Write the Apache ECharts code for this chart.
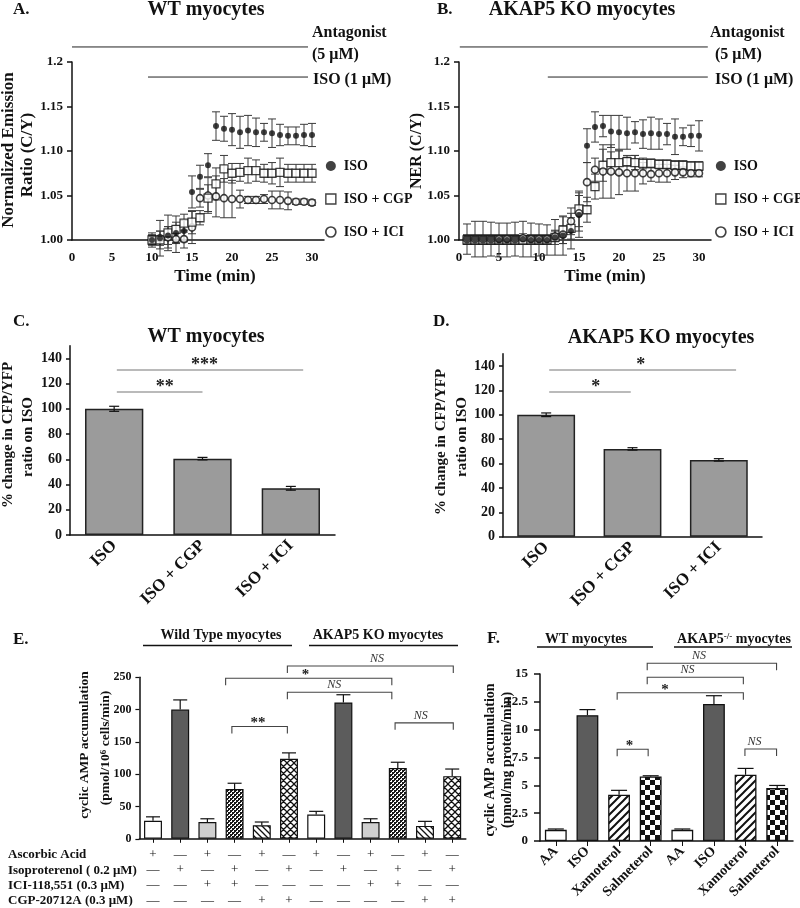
<!DOCTYPE html>
<html><head><meta charset="utf-8">
<script src="https://cdn.jsdelivr.net/npm/echarts@6/dist/echarts.min.js"></script>
<style>html,body{margin:0;padding:0;background:#fff}#c{width:800px;height:908px}</style>
</head><body><div id="c"></div>
<script>
// ---------------- DATA ----------------
const timeA = [10,11,12,13,14,15,16,17,18,19,20,21,22,23,24,25,26,27,28,29,30];
const isoA    = [1.000,1.002,1.005,1.008,1.010,1.054,1.071,1.084,1.128,1.125,1.124,1.121,1.123,1.121,1.121,1.120,1.118,1.117,1.117,1.118,1.118];
const isoAErr = [0.008,0.008,0.010,0.012,0.012,0.018,0.013,0.013,0.016,0.014,0.018,0.018,0.017,0.016,0.010,0.016,0.012,0.010,0.010,0.012,0.013];
const cgpA    = [1.000,1.000,1.008,1.012,1.019,1.020,1.025,1.047,1.063,1.080,1.075,1.076,1.078,1.078,1.075,1.075,1.076,1.075,1.075,1.075,1.075];
const cgpAErr = [0.006,0.010,0.020,0.015,0.010,0.013,0.008,0.015,0.018,0.015,0.011,0.010,0.014,0.012,0.010,0.012,0.016,0.010,0.010,0.010,0.010];
const iciA    = [1.000,1.002,1.003,1.001,1.001,1.014,1.047,1.050,1.049,1.047,1.046,1.046,1.045,1.045,1.046,1.045,1.045,1.044,1.043,1.043,1.042];
const iciAErr = [0.005,0.020,0.012,0.015,0.010,0.018,0.010,0.020,0.023,0.022,0.021,0.010,0.004,0.004,0.005,0.010,0.010,0.010,0.003,0.003,0.003];

const timeB = [1,2,3,4,5,6,7,8,9,10,11,12,13,14,15,16,17,18,19,20,21,22,23,24,25,26,27,28,29,30];
const isoB    = [1.001,1.001,1.001,1.001,1.000,1.000,1.001,1.001,1.000,1.000,1.000,1.003,1.005,1.010,1.028,1.106,1.127,1.128,1.122,1.121,1.120,1.121,1.119,1.120,1.119,1.119,1.116,1.116,1.117,1.117];
const isoBErr = [0.017,0.020,0.020,0.019,0.019,0.019,0.019,0.020,0.019,0.018,0.017,0.020,0.022,0.020,0.025,0.019,0.017,0.012,0.018,0.019,0.018,0.012,0.016,0.018,0.017,0.012,0.020,0.010,0.012,0.017];
const cgpB    = [1.000,1.000,1.000,1.000,1.000,1.000,1.000,1.000,1.000,1.000,1.000,1.003,1.011,1.013,1.035,1.034,1.060,1.084,1.087,1.087,1.088,1.087,1.086,1.086,1.085,1.085,1.084,1.084,1.083,1.083];
const cgpBErr = [0.005,0.005,0.005,0.005,0.005,0.005,0.005,0.005,0.005,0.005,0.005,0.008,0.015,0.012,0.020,0.014,0.014,0.018,0.012,0.013,0.005,0.008,0.006,0.005,0.005,0.005,0.005,0.005,0.005,0.005];
const iciB    = [1.001,1.001,1.001,1.001,1.001,1.001,1.001,1.002,1.001,1.001,1.001,1.004,1.006,1.021,1.030,1.065,1.079,1.077,1.077,1.076,1.075,1.075,1.075,1.074,1.075,1.075,1.076,1.076,1.075,1.075];
const iciBErr = [0.005,0.005,0.005,0.005,0.005,0.005,0.005,0.005,0.005,0.005,0.005,0.006,0.010,0.015,0.020,0.022,0.013,0.030,0.030,0.025,0.020,0.020,0.012,0.008,0.010,0.010,0.008,0.006,0.004,0.004];

const timeTicks = [0,5,10,15,20,25,30];

const catsCD = ['ISO','ISO + CGP','ISO + ICI'];
const valsC = [100, 60.5, 37];
const errC  = [2, 1, 1.5];
const valsD = [100, 72, 63];
const errD  = [1.5, 1, 1];
const pctTicks = [0,20,40,60,80,100,120,140];

const catsE  = ['WT AA','WT ISO','WT ICI','WT ISO+ICI','WT CGP','WT ISO+CGP','KO AA','KO ISO','KO ICI','KO ISO+ICI','KO CGP','KO ISO+CGP'];
const typesE = ['aa','iso','ici','isoici','cgp','isocgp','aa','iso','ici','isoici','cgp','isocgp'];
const valsE  = [28, 200, 26, 77, 21, 124, 37.5, 211, 26, 109.5, 20, 97];
const errE   = [6, 15, 5, 9, 5, 9, 5, 12, 5, 9, 7, 11];
const rowAA  = ['+','—','+','—','+','—','+','—','+','—','+','—'];
const rowISO = ['—','+','—','+','—','+','—','+','—','+','—','+'];
const rowICI = ['—','—','+','+','—','—','—','—','+','+','—','—'];
const rowCGP = ['—','—','—','—','+','+','—','—','—','—','+','+'];
const rowNames = ['Ascorbic Acid','Isoproterenol ( 0.2 μM)','ICI-118,551 (0.3 μM)','CGP-20712A (0.3 μM)'];

const catsF   = ['WT AA','WT ISO','WT Xamoterol','WT Salmeterol','KO AA','KO ISO','KO Xamoterol','KO Salmeterol'];
const labelsF = ['AA','ISO','Xamoterol','Salmeterol','AA','ISO','Xamoterol','Salmeterol'];
const typesF  = ['aa','iso','xam','sal','aa','iso','xam','sal'];
const valsF   = [1.0, 11.3, 4.15, 5.8, 1.0, 12.3, 5.95, 4.75];
const errF    = [0.08, 0.5, 0.4, 0.06, 0.08, 0.75, 0.57, 0.24];

// significance annotations (category units)
const sigC = [{from:0.03,to:2.14,y:130.7,label:'***',lp:0.47},{from:0.03,to:1.0,y:113.3,label:'**',lp:0.56}];
const sigD = [{from:0.035,to:2.2,y:136.7,label:'*',lp:0.49},{from:0.035,to:0.98,y:118.7,label:'*',lp:0.57}];
const sigE = [
  {from:2.9,to:4.94,y:173.8,label:'**',lp:0.47},
  {from:4.94,to:8.78,y:226.9,label:'NS',lp:0.45},
  {from:2.67,to:8.78,y:248.5,label:'*',lp:0.48},
  {from:4.94,to:11.04,y:267.4,label:'NS',lp:0.54},
  {from:8.9,to:11.04,y:179.5,label:'NS',lp:0.44}
];
const sigF = [
  {from:1.94,to:2.92,y:8.24,label:'*',lp:0.4},
  {from:5.98,to:6.98,y:8.27,label:'NS',lp:0.3},
  {from:1.94,to:5.93,y:13.32,label:'*',lp:0.38},
  {from:2.89,to:5.93,y:14.71,label:'NS',lp:0.42},
  {from:2.89,to:6.98,y:15.97,label:'NS',lp:0.4}
];
// treatment bars in A/B (x from, x to, y)
const treatA = [[0,29.5,1.2169],[9.5,29.5,1.1831]];
const treatB = [[0.1,31.1,1.2169],[11.1,31.1,1.1831]];

// ---------------- STYLE ----------------
const FF = '"Liberation Serif","Times New Roman",serif';
const INK = '#111';
function fnt(sz, w, st){ return (st||'normal')+' '+(w||'bold')+' '+sz+'px '+FF; }

function pat(w,h,draw){const c=document.createElement('canvas');c.width=w;c.height=h;const g=c.getContext('2d');draw(g,w,h);return {image:c,repeat:'repeat'};}
const fills = {
  aa:'#ffffff', iso:'#5c5c5c', ici:'#cfcfcf',
  cgp: pat(6,6,(g)=>{g.fillStyle='#fff';g.fillRect(0,0,6,6);g.strokeStyle='#111';g.lineWidth=1.3;g.beginPath();g.moveTo(-1,-1);g.lineTo(7,7);g.moveTo(-1,5);g.lineTo(1,7);g.moveTo(5,-1);g.lineTo(7,1);g.stroke();}),
  isocgp: pat(7,7,(g)=>{g.fillStyle='#fff';g.fillRect(0,0,7,7);g.strokeStyle='#111';g.lineWidth=1.3;g.beginPath();
     g.moveTo(-1,-1);g.lineTo(8,8);g.moveTo(-1,6);g.lineTo(1,8);g.moveTo(6,-1);g.lineTo(8,1);
     g.moveTo(-1,8);g.lineTo(8,-1);g.moveTo(-1,1);g.lineTo(1,-1);g.moveTo(6,8);g.lineTo(8,6);g.stroke();}),
  isoici: pat(4,4,(g)=>{g.fillStyle='#fff';g.fillRect(0,0,4,4);g.fillStyle='#1a1a1a';g.fillRect(0,0,2,2);g.fillRect(2,2,2,2);g.fillRect(2,0,1,1);g.fillRect(0,2,1,1);}),
  xam: pat(8,8,(g)=>{g.fillStyle='#fff';g.fillRect(0,0,8,8);g.strokeStyle='#111';g.lineWidth=2;g.beginPath();g.moveTo(-1,9);g.lineTo(9,-1);g.moveTo(-1,1);g.lineTo(1,-1);g.moveTo(7,9);g.lineTo(9,7);g.stroke();}),
  sal: pat(10,10,(g)=>{g.fillStyle='#fff';g.fillRect(0,0,10,10);g.fillStyle='#111';g.fillRect(0,0,5,5);g.fillRect(5,5,5,5);})
};

function errBars(xi, times, vals, errs, cap, name){
  return {type:'custom', name, xAxisIndex:xi, yAxisIndex:xi, z:2, silent:true, clip:false,
    data: times.map((t,i)=>[t, vals[i], errs[i]]),
    renderItem:(p,api)=>{const x=api.value(0),y=api.value(1),e=api.value(2);
      const t=api.coord([x,y+e]), b=api.coord([x,y-e]); const st={stroke:'#3a3a3a',lineWidth:1};
      return {type:'group',children:[
        {type:'line',shape:{x1:t[0],y1:t[1],x2:b[0],y2:b[1]},style:st},
        {type:'line',shape:{x1:t[0]-cap,y1:t[1],x2:t[0]+cap,y2:t[1]},style:st},
        {type:'line',shape:{x1:b[0]-cap,y1:b[1],x2:b[0]+cap,y2:b[1]},style:st}]};}};
}
function barErr(xi, vals, errs, cap, both, name){
  return {type:'custom', name, xAxisIndex:xi, yAxisIndex:xi, z:4, silent:true, clip:false,
    data: vals.map((v,i)=>[i, v, errs[i]]),
    renderItem:(p,api)=>{const x=api.value(0),y=api.value(1),e=api.value(2);
      const t=api.coord([x,y+e]), b=api.coord([x,both?y-e:y]); const st={stroke:'#111',lineWidth:1.2};
      const ch=[{type:'line',shape:{x1:t[0],y1:t[1],x2:b[0],y2:b[1]},style:st},
        {type:'line',shape:{x1:t[0]-cap,y1:t[1],x2:t[0]+cap,y2:t[1]},style:st}];
      if(both) ch.push({type:'line',shape:{x1:b[0]-cap,y1:b[1],x2:b[0]+cap,y2:b[1]},style:st});
      return {type:'group',children:ch};}};
}
function sig(xi, list, drop, color, fonts, dys, name){
  return {type:'custom', name, xAxisIndex:xi, yAxisIndex:xi, z:6, silent:true, clip:false,
    data: list.map(b=>[0, b.y]),
    renderItem:(p,api)=>{const b=list[p.dataIndex]; const x0=api.coord([0,0])[0]; const bw=api.size([1,0])[0];
      const xa=x0+b.from*bw, xb=x0+b.to*bw, y=api.coord([0,b.y])[1];
      const pts = drop ? [[xa,y+drop],[xa,y],[xb,y],[xb,y+drop]] : [[xa,y],[xb,y]];
      const isNS = b.label==='NS';
      return {type:'group',children:[
        {type:'polyline',shape:{points:pts},style:{stroke:color,lineWidth:1.1,fill:'none'}},
        {type:'text',style:{x:xa+(xb-xa)*b.lp, y:y-(isNS?dys[1]:dys[0]), text:b.label, font:isNS?fonts[1]:fonts[0], fill:isNS?'#333':'#222', align:'center', verticalAlign:'middle'}}]};}};
}
function treat(xi, list, name){
  return {type:'custom', name, xAxisIndex:xi, yAxisIndex:xi, z:2, silent:true, clip:false,
    data: list,
    renderItem:(p,api)=>{const a=api.coord([api.value(0),api.value(2)]), b=api.coord([api.value(1),api.value(2)]);
      return {type:'line',shape:{x1:a[0],y1:a[1],x2:b[0],y2:b[1]},style:{stroke:'#222',lineWidth:1}};}};
}

const axLine = {show:true, onZero:false, lineStyle:{color:INK, width:1.5}};
const lbl = (sz, extra)=>Object.assign({color:INK, fontFamily:FF, fontWeight:'bold', fontSize:sz}, extra||{});

function timeX(gi){ return {gridIndex:gi, type:'value', min:0, max:31.5, interval:5, axisLine:axLine, axisTick:{show:false}, splitLine:{show:false},
  axisLabel:lbl(13,{customValues:timeTicks, margin:11})}; }
function nerY(gi){ return {gridIndex:gi, type:'value', min:1.0, max:1.2, interval:0.05, axisLine:axLine,
  axisTick:{show:true, length:5, lineStyle:{color:INK,width:1.5}}, splitLine:{show:false},
  axisLabel:lbl(13,{margin:9, formatter:(v)=>Math.abs(v-1.2)<1e-9?'1.2':v.toFixed(2)})}; }
function catX(gi, data, extra){ return Object.assign({gridIndex:gi, type:'category', data, axisLine:axLine, axisTick:{show:false}, splitLine:{show:false},
  axisLabel:lbl(17,{rotate:45, interval:0, margin:8})}, extra||{}); }
function pctY(gi){ return {gridIndex:gi, type:'value', min:0, max:150, interval:20, axisLine:axLine,
  axisTick:{show:true, length:4, customValues:pctTicks, lineStyle:{color:INK,width:1.5}}, splitLine:{show:false},
  axisLabel:lbl(14,{customValues:pctTicks, margin:8})}; }

const legendItems = [
  {name:'ISO', icon:'circle', itemStyle:{color:INK, borderWidth:0}},
  {name:'ISO + CGP', icon:'rect', itemStyle:{color:'#fff', borderColor:INK, borderWidth:1.4}},
  {name:'ISO + ICI', icon:'circle', itemStyle:{color:'#fff', borderColor:INK, borderWidth:1.7}}
];
function legendAt(left){ return {left, top:159, orient:'vertical', padding:0, itemGap:19, itemWidth:10, itemHeight:10,
  selectedMode:false, textStyle:lbl(14,{padding:[0,0,0,3]}), data:legendItems}; }

function scat(xi, name, times, vals, sym, size, style){
  return {type:'scatter', name, xAxisIndex:xi, yAxisIndex:xi, z:3, symbol:sym, symbolSize:size,
    data: times.map((t,i)=>[t, vals[i]]), itemStyle:style, silent:true};
}
const stISO = {color:INK};
const stCGP = {color:'#fff', borderColor:INK, borderWidth:1.3};
const stICI = {color:'#fff', borderColor:INK, borderWidth:1.6};

// ---------------- TEXT ----------------
function T(text, x, y, sz, o){ o=o||{}; return {type:'text', x, y, rotation:o.rot||0, silent:true,
  style:{text, font:fnt(sz, o.w, o.st), fill:o.fill||INK, align:o.align||'left', verticalAlign:'middle', rich:o.rich}}; }
function L(x1,y1,x2,y2){ return {type:'line', silent:true, shape:{x1,y1,x2,y2}, style:{stroke:INK, lineWidth:1.5}}; }
const R = Math.PI/2;
const supRich = {s:{font:fnt(9), verticalAlign:'top', fill:INK}};

const texts = [
  T('A.',13,10,17), T('WT myocytes',206,10,20,{align:'center'}),
  T('B.',437,10,17), T('AKAP5 KO myocytes',582,10,20,{align:'center'}),
  T('Antagonist',312,33,16), T('(5 μM)',312,55,16), T('ISO (1 μM)',313,80,16),
  T('Antagonist',710,33,16), T('(5 μM)',715,55,16), T('ISO (1 μM)',715,80,16),
  T('Time (min)',215,277,17,{align:'center'}), T('Time (min)',605,277,17,{align:'center'}),
  T('Normalized Emission',9,150,17,{align:'center',rot:R}), T('Ratio (C/Y)',28,155,17,{align:'center',rot:R}),
  T('NER (C/Y)',417,151,16,{align:'center',rot:R}),
  T('C.',13,322,17), T('WT myocytes',206,337,20,{align:'center'}),
  T('D.',433,322,17), T('AKAP5 KO myocytes',661,338,20,{align:'center'}),
  T('% change in CFP/YFP',8,435,15,{align:'center',rot:R}), T('ratio on ISO',28,437,15,{align:'center',rot:R}),
  T('% change in CFP/YFP',441,442,15,{align:'center',rot:R}), T('ratio on ISO',462,437,15,{align:'center',rot:R}),
  T('E.',13,640,17),
  T('Wild Type myocytes',221,635,14,{align:'center'}), L(143,645.5,292,645.5),
  T('AKAP5 KO myocytes',378,635,14,{align:'center'}), L(309,645.5,458,645.5),
  T('cyclic AMP accumulation',85,745,13.5,{align:'center',rot:R}),
  T('(pmol/10{s|6} cells/min)',106,748,13.5,{align:'center',rot:R,rich:supRich}),
  T(rowNames[0],8,855,13), T(rowNames[1],8,870.5,13), T(rowNames[2],8,885.5,13), T(rowNames[3],8,900.7,13),
  T('F.',487,639,17),
  T('WT myocytes',586,639,14,{align:'center'}), L(537,647,653,647),
  T('AKAP5{s|-/-} myocytes',734,639,14,{align:'center',rich:supRich}), L(674,647,792,647),
  T('cyclic AMP accumulation',490,760,14,{align:'center',rot:R}),
  T('(pmol/mg protein/min)',507,760,14,{align:'center',rot:R})
];

// ---------------- OPTION ----------------
const option = {
  animation:false, backgroundColor:'#fff', textStyle:{fontFamily:FF},
  grid:[
    {left:72, top:62, width:252, height:178},
    {left:459, top:62, width:252, height:178},
    {left:70, top:345.7, width:265, height:189.3},
    {left:503, top:353.8, width:259, height:182.9},
    {left:139.4, top:677.3, width:326.4, height:162},
    {left:540, top:674, width:253, height:167}
  ],
  xAxis:[
    timeX(0), timeX(1),
    catX(2, catsCD), catX(3, catsCD),
    catX(4, catsE, {axisTick:{show:true, alignWithLabel:true, length:4, lineStyle:{color:INK}},
      axisLabel:{interval:0, margin:8, color:INK, fontFamily:FF, fontSize:13, lineHeight:15.3, align:'center',
        formatter:(v,i)=>[rowAA[i],rowISO[i],rowICI[i],rowCGP[i]].join('\n')}}),
    catX(5, catsF, {axisTick:{show:true, alignWithLabel:true, length:5, lineStyle:{color:INK}},
      axisLabel:lbl(14,{rotate:45, interval:0, margin:8, formatter:(v,i)=>labelsF[i]})})
  ],
  yAxis:[
    nerY(0), nerY(1), pctY(2), pctY(3),
    {gridIndex:4, type:'value', min:0, max:250, interval:50, axisLine:axLine,
      axisTick:{show:true, length:4, lineStyle:{color:INK,width:1.2}}, splitLine:{show:false}, axisLabel:lbl(12,{margin:8})},
    {gridIndex:5, type:'value', min:0, max:15, interval:2.5, axisLine:axLine,
      axisTick:{show:true, length:6, lineStyle:{color:INK,width:1.5}}, splitLine:{show:false}, axisLabel:lbl(13,{margin:12})}
  ],
  legend:[legendAt(325), legendAt(715)],
  graphic:{elements:texts},
  series:[
    treat(0, treatA, 'treatA'), treat(1, treatB, 'treatB'),
    errBars(0, timeA, isoA, isoAErr, 4, 'eA1'), errBars(0, timeA, cgpA, cgpAErr, 4, 'eA2'), errBars(0, timeA, iciA, iciAErr, 4, 'eA3'),
    scat(0,'ISO + ICI',timeA,iciA,'circle',7,stICI), scat(0,'ISO + CGP',timeA,cgpA,'rect',8,stCGP), scat(0,'ISO',timeA,isoA,'circle',6,stISO),
    errBars(1, timeB, isoB, isoBErr, 4, 'eB1'), errBars(1, timeB, cgpB, cgpBErr, 4, 'eB2'), errBars(1, timeB, iciB, iciBErr, 4, 'eB3'),
    scat(1,'ISO + CGP',timeB,cgpB,'rect',8,stCGP), scat(1,'ISO + ICI',timeB,iciB,'circle',7,stICI), scat(1,'ISO',timeB,isoB,'circle',6,stISO),
    {type:'bar', name:'barC', xAxisIndex:2, yAxisIndex:2, data:valsC, barWidth:'66%', silent:true,
      itemStyle:{color:'#9b9b9b', borderColor:'#222', borderWidth:1.5}},
    barErr(2, valsC, errC, 5, true, 'errC'), sig(2, sigC, 0, '#777', [fnt(18), fnt(13,'normal','italic')], [5,7], 'sigC'),
    {type:'bar', name:'barD', xAxisIndex:3, yAxisIndex:3, data:valsD, barWidth:'67%', silent:true,
      itemStyle:{color:'#9b9b9b', borderColor:'#222', borderWidth:1.5}},
    barErr(3, valsD, errD, 5, true, 'errD'), sig(3, sigD, 0, '#777', [fnt(18), fnt(13,'normal','italic')], [5,7], 'sigD'),
    {type:'bar', name:'barE', xAxisIndex:4, yAxisIndex:4, barWidth:'66%', silent:true,
      data: valsE.map((v,i)=>({value:v, itemStyle:{color:fills[typesE[i]]}})),
      itemStyle:{borderColor:INK, borderWidth:1.2}},
    barErr(4, valsE, errE, 7, false, 'errE'), sig(4, sigE, 7, '#444', [fnt(15), fnt(12,'normal','italic')], [3,7], 'sigE'),
    {type:'bar', name:'barF', xAxisIndex:5, yAxisIndex:5, barWidth:'69%', silent:true,
      data: valsF.map((v,i)=>({value:v, itemStyle:{color:fills[typesF[i]]}})),
      itemStyle:{borderColor:INK, borderWidth:1.3}},
    barErr(5, valsF, errF, 8, false, 'errF'), sig(5, sigF, 7, '#444', [fnt(15), fnt(12,'normal','italic')], [3,7], 'sigF')
  ]
};
const chart = echarts.init(document.getElementById('c'), null, {renderer:'canvas', width:800, height:908});
chart.setOption(option);
</script>
</body></html>
